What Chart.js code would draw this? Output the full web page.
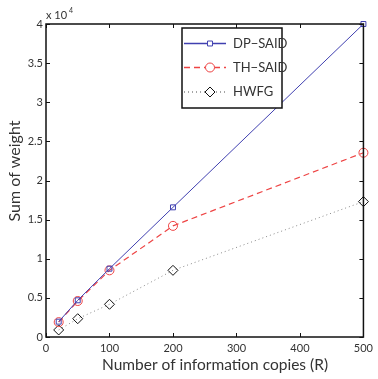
<!DOCTYPE html>
<html>
<head>
<meta charset="utf-8">
<script src="https://cdn.jsdelivr.net/npm/chart.js@4.4.0/dist/chart.umd.min.js"></script>
<style>
  html, body { margin: 0; padding: 0; background: #fff; }
  #wrap { width: 378px; height: 379px; }
</style>
</head>
<body>
<div id="wrap"><canvas id="sumChart" width="378" height="379"></canvas></div>
<script>
// copies R
const copies = [20, 50, 100, 200, 500];
// sum of weight, in units of 1e4
const dpSaid = [0.196, 0.469, 0.873, 1.657, 4.0];
const thSaid = [0.19, 0.46, 0.852, 1.42, 2.355];
const hwfg = [0.09, 0.234, 0.418, 0.852, 1.73];

const xTicks = [0, 100, 200, 300, 400, 500];
const yTicks = [0, 0.5, 1, 1.5, 2, 2.5, 3, 3.5, 4];

const font = "Lato, 'Open Sans', 'DejaVu Sans', sans-serif";

function pts(vals) {
  return copies.map((c, i) => ({ x: c, y: vals[i] }));
}

// box, inward ticks, legend box, axis titles and the x10^4 exponent, MATLAB style
const matlabFrame = {
  id: "matlabFrame",
  afterDraw(chart) {
    const ctx = chart.ctx;
    const a = chart.chartArea;
    const xs = chart.scales.x, ys = chart.scales.y;
    ctx.save();
    ctx.strokeStyle = "#111";
    ctx.lineWidth = 1.5;
    ctx.strokeRect(a.left, a.top, a.right - a.left, a.bottom - a.top);
    ctx.lineWidth = 1;
    ctx.beginPath();
    xTicks.forEach(v => {
      const px = Math.round(xs.getPixelForValue(v)) + 0.5;
      ctx.moveTo(px, a.bottom); ctx.lineTo(px, a.bottom - 4);
      ctx.moveTo(px, a.top); ctx.lineTo(px, a.top + 4);
    });
    yTicks.forEach(v => {
      const py = Math.round(ys.getPixelForValue(v)) + 0.5;
      ctx.moveTo(a.left, py); ctx.lineTo(a.left + 4, py);
      ctx.moveTo(a.right, py); ctx.lineTo(a.right - 4, py);
    });
    ctx.stroke();

    // axis titles
    ctx.fillStyle = "#333";
    ctx.textAlign = "center";
    ctx.textBaseline = "middle";
    ctx.font = "15.5px " + font;
    ctx.fillText("Number of information copies (R)", 215, 365);
    ctx.save();
    ctx.translate(15, 171);
    ctx.rotate(-Math.PI / 2);
    ctx.font = "16px " + font;
    ctx.fillText("Sum of weight", 0, 0);
    ctx.restore();

    // exponent
    ctx.textAlign = "left";
    ctx.textBaseline = "alphabetic";
    ctx.font = "11px " + font;
    ctx.fillText("x 10", a.left, a.top - 5);
    ctx.font = "7px " + font;
    ctx.fillText("4", a.left + 23, a.top - 11);

    // legend
    const lx = 182, ly = 28, lw = 100, lh = 80;
    ctx.fillStyle = "#fff";
    ctx.fillRect(lx, ly, lw, lh);
    ctx.strokeStyle = "#111";
    ctx.lineWidth = 1.5;
    ctx.strokeRect(lx, ly, lw, lh);
    const rows = [43.5, 67.5, 92];
    chart.data.datasets.forEach((ds, i) => {
      const y = rows[i];
      ctx.save();
      ctx.strokeStyle = ds.borderColor;
      ctx.lineWidth = ds.borderWidth + 0.3;
      ctx.setLineDash(ds.borderDash || []);
      ctx.beginPath();
      ctx.moveTo(lx + 2, y); ctx.lineTo(lx + 44, y);
      ctx.stroke();
      ctx.restore();
      ctx.save();
      ctx.fillStyle = "#fff";
      ctx.strokeStyle = ds.pointBorderColor;
      ctx.lineWidth = ds.pointBorderWidth;
      Chart.helpers.drawPoint(ctx, {
        pointStyle: ds.pointStyle,
        radius: ds.pointRadius,
        borderWidth: ds.pointBorderWidth
      }, lx + 28, y);
      ctx.restore();
      ctx.fillStyle = "#333";
      ctx.font = "13px " + font;
      ctx.textBaseline = "middle";
      ctx.fillText(ds.label, lx + 51, y);
    });
    ctx.restore();
  }
};

new Chart(document.getElementById("sumChart"), {
  type: "line",
  data: {
    datasets: [
      {
        label: "DP\u2212SAID",
        data: pts(dpSaid),
        borderColor: "#4040b0",
        pointBorderColor: "#4040b0",
        borderWidth: 1,
        pointStyle: "rect",
        pointRadius: 3.5,
        pointBorderWidth: 1,
        pointBackgroundColor: "rgba(0,0,0,0)"
      },
      {
        label: "TH\u2212SAID",
        data: pts(thSaid),
        borderColor: "#ee4444",
        pointBorderColor: "#ee4444",
        borderWidth: 1.2,
        borderDash: [6, 4],
        pointStyle: "circle",
        pointRadius: 4.5,
        pointBorderWidth: 1,
        pointBackgroundColor: "rgba(0,0,0,0)"
      },
      {
        label: "HWFG",
        data: pts(hwfg),
        borderColor: "#888",
        pointBorderColor: "#111",
        borderWidth: 1,
        borderDash: [1, 3],
        pointStyle: "rectRot",
        pointRadius: 5,
        pointBorderWidth: 1,
        pointBackgroundColor: "rgba(0,0,0,0)"
      }
    ]
  },
  options: {
    responsive: false,
    animation: false,
    clip: false,
    layout: { padding: { top: 24, right: 4, left: 0, bottom: 0 } },
    elements: { line: { tension: 0 } },
    plugins: {
      legend: { display: false },
      tooltip: { enabled: false }
    },
    scales: {
      x: {
        type: "linear",
        min: 0,
        max: 500,
        afterBuildTicks: s => { s.ticks = xTicks.map(v => ({ value: v })); },
        afterFit: s => { s.height = 42; },
        grid: { display: false, drawTicks: false },
        border: { display: false },
        ticks: { color: "#333", font: { family: font, size: 11 }, padding: 5, maxRotation: 0 }
      },
      y: {
        min: 0,
        max: 4,
        afterBuildTicks: s => { s.ticks = yTicks.map(v => ({ value: v })); },
        afterFit: s => { s.width = 46; },
        grid: { display: false, drawTicks: false },
        border: { display: false },
        ticks: {
          color: "#333",
          font: { family: font, size: 11 },
          padding: 3,
          callback: v => String(v)
        }
      }
    }
  },
  plugins: [matlabFrame]
});
</script>
</body>
</html>
